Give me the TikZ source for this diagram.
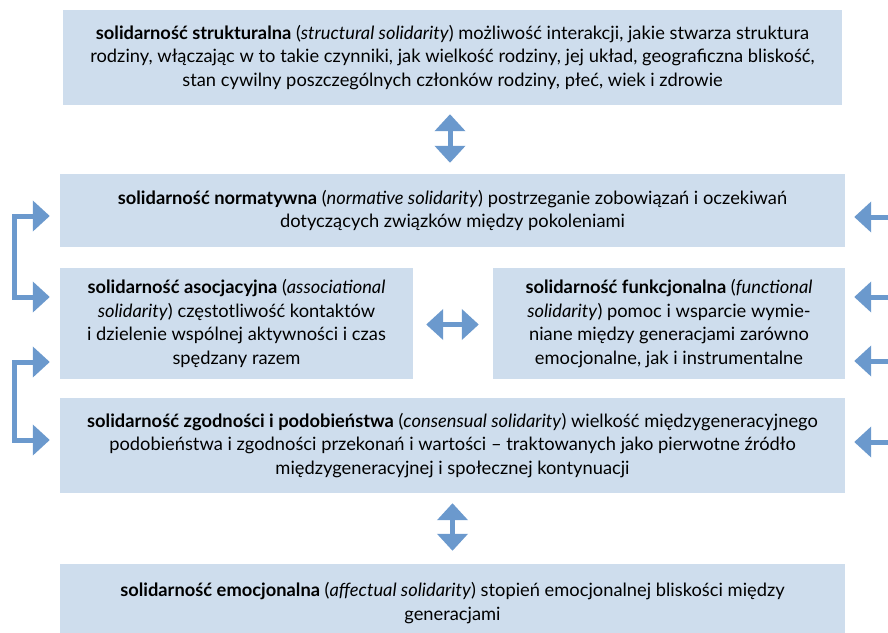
\documentclass[tikz,border=0pt]{standalone}
\usepackage{fontspec}
\setmainfont{Lato}
\usetikzlibrary{arrows.meta,calc}
\definecolor{boxfill}{RGB}{206,221,237}
\definecolor{arrcol}{RGB}{107,153,205}
\tikzset{
  box/.style={fill=boxfill, draw=none, inner sep=0pt, align=center, text=black,
    font=\fontsize{18.3pt}{23.5pt}\selectfont},
  barrow/.style={draw=arrcol, line width=5pt, line join=miter,
    -{Triangle[length=17pt,width=30pt]}},
  dbarrow/.style={draw=arrcol, line width=5pt, line join=miter,
    {Triangle[length=17pt,width=30pt]}-{Triangle[length=17pt,width=30pt]}},
}
\begin{document}
\begin{tikzpicture}[x=1pt,y=-1pt]
\useasboundingbox (0,0) rectangle (888,632);
\node[box, minimum width=779pt, minimum height=95pt] (n1) at (452.5,57.5)
 {\textbf{solidarność strukturalna} (\textit{structural solidarity}) możliwość interakcji, jakie stwarza struktura\\
  rodziny, włączając w to takie czynniki, jak wielkość rodziny, jej układ, geograficzna bliskość,\\
  stan cywilny poszczególnych członków rodziny, płeć, wiek i zdrowie};
\node[box, minimum width=785pt, minimum height=73pt] (n2) at (452.5,210.5)
 {\textbf{solidarność normatywna} (\textit{normative solidarity}) postrzeganie zobowiązań i oczekiwań\\
  dotyczących związków między pokoleniami};
\node[box, minimum width=353pt, minimum height=111pt] (n3) at (236.5,323.5)
 {\textbf{solidarność asocjacyjna} (\textit{associational}\\
  \textit{solidarity}) częstotliwość kontaktów\\
  i dzielenie wspólnej aktywności i czas\\
  spędzany razem};
\node[box, minimum width=352pt, minimum height=111pt] (n4) at (669,323.5)
 {\textbf{solidarność funkcjonalna} (\textit{functional}\\
  \textit{solidarity}) pomoc i wsparcie wymie-\\
  niane między generacjami zarówno\\
  emocjonalne, jak i instrumentalne};
\node[box, minimum width=785pt, minimum height=95pt] (n5) at (452.5,445.5)
 {\textbf{solidarność zgodności i podobieństwa} (\textit{consensual solidarity}) wielkość międzygeneracyjnego\\
  podobieństwa i zgodności przekonań i wartości – traktowanych jako pierwotne źródło\\
  międzygeneracyjnej i społecznej kontynuacji};
\node[box, minimum width=785pt, minimum height=78pt] (n6) at (452.5,603)
 {\textbf{solidarność emocjonalna} (\textit{affectual solidarity}) stopień emocjonalnej bliskości między\\
  generacjami};
% vertical and horizontal double arrows
\draw[dbarrow] ([xshift=-2.5pt,yshift=-9pt]n1.south) -- ([xshift=-2.5pt,yshift=11pt]n2.north);
\draw[dbarrow] ([yshift=-10pt]n5.south) -- ([yshift=13pt]n6.north);
\draw[dbarrow] ([xshift=13pt,yshift=-1pt]n3.east) -- ([xshift=-14pt,yshift=-1pt]n4.west);
% left brackets
\coordinate (bx) at (14.5,0);
\coordinate (la1) at ([xshift=-10pt,yshift=-5.5pt]n2.west);
\coordinate (la2) at ([xshift=-10pt,yshift=26.5pt]n3.west);
\coordinate (la3) at ([xshift=-10pt,yshift=-38.5pt]n3.west);
\coordinate (la4) at ([xshift=-10pt,yshift=5.5pt]n5.west);
\draw[dbarrow] (la1) -- (la1 -| bx) -- (la2 -| bx) -- (la2);
\draw[dbarrow] (la3) -- (la3 -| bx) -- (la4 -| bx) -- (la4);
% right arrows
\coordinate (rx) at (892,0);
\coordinate (ra1) at ([xshift=9pt,yshift=-6.5pt]n2.east);
\coordinate (ra2) at ([xshift=9pt,yshift=26.5pt]n4.east);
\coordinate (ra3) at ([xshift=9pt,yshift=-37.5pt]n4.east);
\coordinate (ra4) at ([xshift=9pt,yshift=3.5pt]n5.east);
\draw[barrow] (ra1 -| rx) -- (ra1);
\draw[barrow] (ra2 -| rx) -- (ra2);
\draw[barrow] (ra3 -| rx) -- (ra3);
\draw[barrow] (ra4 -| rx) -- (ra4);
\end{tikzpicture}
\end{document}
